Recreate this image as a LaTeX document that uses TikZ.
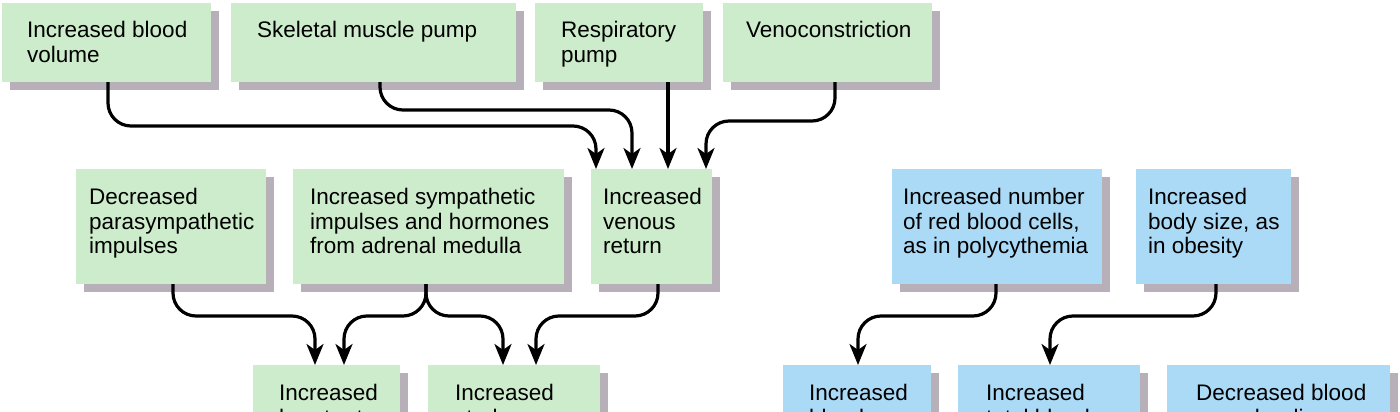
\documentclass[tikz,border=0pt]{standalone}
\usepackage{fontspec}
\setmainfont{Liberation Sans}
\usetikzlibrary{shadows,arrows.meta}
\definecolor{boxgreen}{RGB}{205,236,203}
\definecolor{boxblue}{RGB}{170,218,246}
\definecolor{boxshadow}{RGB}{184,176,184}

\begin{document}
\begin{tikzpicture}[x = 1pt, y = -1pt,
    font = \fontsize{22.5}{24.6}\selectfont,
    card/.style = {rectangle, anchor = north west, inner sep = 0pt, outer sep = 0pt,
        general shadow = {fill = boxshadow, shadow xshift = 8pt, shadow yshift = -8pt}},
    greencard/.style = {card, fill = boxgreen},
    bluecard/.style = {card, fill = boxblue},
    cardtext/.style = {anchor = north west, inner sep = 0pt, align = left},
    link/.style = {line width = 3.2pt, rounded corners = 23pt, -{Stealth[length = 21pt, width = 17pt, inset = 6pt]}}]

    \clip (0, 0) rectangle (1400, 412);

    \node[greencard, minimum width = 209pt, minimum height = 79pt] (volume) at (2, 3) {};
    \node[cardtext] (volumetext) at ([shift = {(25pt, -18pt)}]volume.north west) {Increased blood\\volume};

    \node[greencard, minimum width = 285pt, minimum height = 79pt] (muscle) at (231, 3) {};
    \node[cardtext] (muscletext) at ([shift = {(26pt, -18pt)}]muscle.north west) {Skeletal muscle pump};

    \node[greencard, minimum width = 168pt, minimum height = 79pt] (resp) at (535, 3) {};
    \node[cardtext] (resptext) at ([shift = {(26pt, -18pt)}]resp.north west) {Respiratory\\pump};

    \node[greencard, minimum width = 209pt, minimum height = 79pt] (veno) at (723, 3) {};
    \node[cardtext] (venotext) at ([shift = {(23pt, -18pt)}]veno.north west) {Venoconstriction};

    \node[greencard, minimum width = 190pt, minimum height = 115pt] (para) at (76, 169) {};
    \node[cardtext] (paratext) at ([shift = {(13pt, -19pt)}]para.north west) {Decreased\\parasympathetic\\impulses};

    \node[greencard, minimum width = 271pt, minimum height = 115pt] (symp) at (293, 169) {};
    \node[cardtext] (symptext) at ([shift = {(17pt, -19pt)}]symp.north west) {Increased sympathetic\\impulses and hormones\\from adrenal medulla};

    \node[greencard, minimum width = 121pt, minimum height = 115pt] (return) at (591, 169) {};
    \node[cardtext] (returntext) at ([shift = {(12pt, -19pt)}]return.north west) {Increased\\venous\\return};

    \node[bluecard, minimum width = 210pt, minimum height = 115pt] (cells) at (892, 169) {};
    \node[cardtext] (cellstext) at ([shift = {(11pt, -19pt)}]cells.north west) {Increased number\\of red blood cells,\\as in polycythemia};

    \node[bluecard, minimum width = 155pt, minimum height = 115pt] (size) at (1136, 169) {};
    \node[cardtext] (sizetext) at ([shift = {(12pt, -19pt)}]size.north west) {Increased\\body size, as\\in obesity};

    \node[greencard, minimum width = 147pt, minimum height = 115pt] (rate) at (253, 365) {};
    \node[cardtext] (ratetext) at ([shift = {(26pt, -19pt)}]rate.north west) {Increased\\heart rate};

    \node[greencard, minimum width = 172pt, minimum height = 115pt] (stroke) at (428, 365) {};
    \node[cardtext] (stroketext) at ([shift = {(27pt, -19pt)}]stroke.north west) {Increased\\stroke\\volume};

    \node[bluecard, minimum width = 148pt, minimum height = 115pt] (visc) at (783, 365) {};
    \node[cardtext] (visctext) at ([shift = {(26pt, -19pt)}]visc.north west) {Increased\\blood\\viscosity};

    \node[bluecard, minimum width = 182pt, minimum height = 115pt] (length) at (958, 365) {};
    \node[cardtext] (lengthtext) at ([shift = {(28pt, -19pt)}]length.north west) {Increased\\total blood\\vessel length};

    \node[bluecard, minimum width = 223pt, minimum height = 115pt] (radius) at (1167, 365) {};
    \node[cardtext] (radiustext) at ([shift = {(29pt, -19pt)}]radius.north west) {Decreased blood\\vessel radius};

    \draw[link] (volume.south -| 108, 0) -- (108, 126) -- (596, 126) -- (return.north -| 596, 0);
    \draw[link] (muscle.south -| 380, 0) -- (380, 110) -- (632, 110) -- (return.north -| 632, 0);
    \draw[link] (resp.south -| 668, 0) -- (return.north -| 668, 0);
    \draw[link] (veno.south -| 835, 0) -- (835, 121) -- (706, 121) -- (return.north -| 706, 0);

    \draw[link] (para.south -| 173, 0) -- (173, 316) -- (315, 316) -- (rate.north -| 315, 0);
    \draw[link] (symp.south -| 426, 0) -- (426, 316) -- (344, 316) -- (rate.north -| 344, 0);
    \draw[link] (symp.south -| 426, 0) -- (426, 316) -- (503, 316) -- (stroke.north -| 503, 0);
    \draw[link] (return.south -| 658, 0) -- (658, 316) -- (536, 316) -- (stroke.north -| 536, 0);

    \draw[link] (cells.south -| 996, 0) -- (996, 316) -- (858, 316) -- (visc.north -| 858, 0);
    \draw[link] (size.south -| 1216, 0) -- (1216, 316) -- (1050, 316) -- (length.north -| 1050, 0);

\end{tikzpicture}
\end{document}
